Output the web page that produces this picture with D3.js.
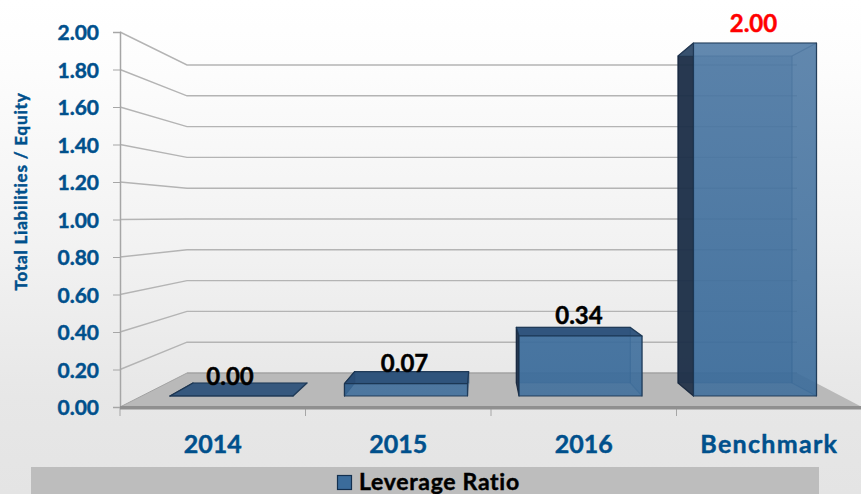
<!DOCTYPE html>
<html>
<head>
<meta charset="utf-8">
<script src="https://cdn.jsdelivr.net/npm/d3@7"></script>
<style>
  html, body { margin: 0; padding: 0; background: #fff; }
  text { font-family: Lato, "Open Sans", sans-serif; font-weight: 700; paint-order: stroke; stroke-width: 0.45px; }
</style>
</head>
<body>
<div id="chart"></div>
<script>
'use strict'

const categories = ['2014', '2015', '2016', 'Benchmark'];
const leverage = [0.00, 0.07, 0.34, 2.00];
const labelColors = ['#000000', '#000000', '#000000', '#ff0000'];
const yTicks = [0, 0.2, 0.4, 0.6, 0.8, 1.0, 1.2, 1.4, 1.6, 1.8, 2.0];
const seriesName = 'Leverage Ratio';
const yTitle = 'Total Liabilities / Equity';

const width = 861;
const height = 494;
const blue = '#00508c';

const svg = d3.select('#chart').append('svg')
  .attr('width', width)
  .attr('height', height)
  .style('display', 'block');

const defs = svg.append('defs');

const bg = defs.append('linearGradient')
  .attr('id', 'bg').attr('x1', 0).attr('x2', 0).attr('y1', 0).attr('y2', 1);
bg.append('stop').attr('offset', '0%').attr('stop-color', '#ffffff');
bg.append('stop').attr('offset', '12%').attr('stop-color', '#fdfdfd');
bg.append('stop').attr('offset', '50%').attr('stop-color', '#f2f2f2');
bg.append('stop').attr('offset', '80%').attr('stop-color', '#e7e7e7');
bg.append('stop').attr('offset', '100%').attr('stop-color', '#e4e4e4');

const front = defs.append('linearGradient')
  .attr('id', 'frontFill').attr('gradientUnits', 'userSpaceOnUse')
  .attr('x1', 0).attr('x2', 0).attr('y1', 43).attr('y2', 396);
front.append('stop').attr('offset', '0%').attr('stop-color', '#527ca6');
front.append('stop').attr('offset', '100%').attr('stop-color', '#3b6c9b');

svg.append('rect')
  .attr('width', width).attr('height', height)
  .attr('fill', 'url(#bg)');

// axis scales: the left edge of the box, front corner and back wall
const yAxisScale = d3.scaleLinear().domain([0, 2]).range([407, 32]);
const yWall = d3.scaleLinear().domain([0, 2]).range([373, 65]);
const xAxisScale = d3.scaleBand().domain(categories).range([120, 862]);

// bar scales: the bars sit inside the box, so front and back differ
const xFront = d3.scaleBand().domain(categories).range([170, 816.5]).paddingInner(0.295);
const xBack = d3.scaleBand().domain(categories).range([193, 792]).paddingInner(0.295);
const yFront = d3.scaleLinear().domain([0, 2]).range([396, 43]);
const yBack = d3.scaleLinear().domain([0, 2]).range([383, 56]);

const wallLeft = 187;
const wallRight = 797;

// floor
svg.append('polygon')
  .attr('points', [
    [xAxisScale.range()[0], yAxisScale(0)],
    [wallLeft, yWall(0)],
    [wallRight, yWall(0)],
    [xAxisScale.range()[1], yAxisScale(0)]
  ].join(' '))
  .attr('fill', '#b9b9b9');

svg.append('line')
  .attr('x1', wallLeft).attr('x2', wallRight)
  .attr('y1', yWall(0)).attr('y2', yWall(0))
  .attr('stroke', '#a3a3a3').attr('stroke-width', 1.5);

// gridlines bend at the back wall
svg.append('g').selectAll('polyline')
  .data(yTicks.slice(1))
  .join('polyline')
  .attr('points', d => [[120, yAxisScale(d)], [wallLeft, yWall(d)], [wallRight, yWall(d)]].join(' '))
  .attr('fill', 'none')
  .attr('stroke', '#b4b4b4')
  .attr('stroke-width', 1.4);

svg.append('line')
  .attr('x1', 120).attr('x2', wallLeft)
  .attr('y1', yAxisScale(0)).attr('y2', yWall(0))
  .attr('stroke', '#a3a3a3').attr('stroke-width', 1);

// y axis
const yAxis = svg.append('g')
  .attr('transform', 'translate(120,0)')
  .call(d3.axisLeft(yAxisScale).tickValues(yTicks).tickFormat(d3.format('.2f')).tickSize(7).tickPadding(14));
yAxis.select('.domain').attr('stroke', '#a6a6a6').attr('stroke-width', 1.5);
yAxis.selectAll('.tick line').attr('stroke', '#a6a6a6').attr('stroke-width', 1);
yAxis.selectAll('.tick text')
  .attr('fill', blue)
  .attr('stroke', blue)
  .attr('dy', '0.38em')
  .style('font-family', 'Lato, sans-serif')
  .style('font-weight', 700)
  .style('font-size', '21px');

// x axis, category labels only, ticks go on the band edges
const xAxis = svg.append('g')
  .attr('transform', `translate(0,${yAxisScale(0)})`)
  .call(d3.axisBottom(xAxisScale).tickSize(0).tickPadding(28));
xAxis.select('.domain').remove();
xAxis.selectAll('.tick text')
  .attr('fill', blue)
  .attr('stroke', blue)
  .style('font-family', 'Lato, sans-serif')
  .style('font-weight', 700)
  .style('font-size', '25px')
  .style('letter-spacing', d => d === 'Benchmark' ? '1.3px' : '0px');

svg.append('g').selectAll('line')
  .data(categories)
  .join('line')
  .attr('x1', d => xAxisScale(d)).attr('x2', d => xAxisScale(d))
  .attr('y1', yAxisScale(0)).attr('y2', yAxisScale(0) + 9)
  .attr('stroke', '#a6a6a6').attr('stroke-width', 1);

svg.append('rect')
  .attr('x', 120).attr('y', yAxisScale(0) - 1)
  .attr('width', 742).attr('height', 3.5)
  .attr('fill', '#8f8f8f');

// bars: each one is see-through faces
const corners = (d, v) => {
  const fl = xFront(d), fr = fl + xFront.bandwidth();
  const bl = xBack(d), br = bl + xBack.bandwidth();
  return {
    back: [[bl, yBack(0)], [br, yBack(0)], [br, yBack(v)], [bl, yBack(v)]],
    left: [[bl, yBack(0)], [fl, yFront(0)], [fl, yFront(v)], [bl, yBack(v)]],
    right: [[br, yBack(0)], [fr, yFront(0)], [fr, yFront(v)], [br, yBack(v)]],
    top: [[fl, yFront(v)], [fr, yFront(v)], [br, yBack(v)], [bl, yBack(v)]],
    front: [[fl, yFront(0)], [fr, yFront(0)], [fr, yFront(v)], [fl, yFront(v)]]
  };
};

const faceStyles = [
  { key: 'back', fill: '#2f5f8e', opacity: 0.55, stroke: '#1d4368', strokeOpacity: 0.35 },
  { key: 'right', fill: '#2f5f8e', opacity: 0.3, stroke: '#1d4368', strokeOpacity: 0.45 },
  { key: 'left', fill: '#1c2c44', opacity: 0.9, stroke: '#14233a', strokeOpacity: 0.9 },
  { key: 'top', fill: '#2a4f78', opacity: 0.92, stroke: '#1b3552', strokeOpacity: 0.9 },
  { key: 'front', fill: 'url(#frontFill)', opacity: 0.86, stroke: '#1b3552', strokeOpacity: 0.9 }
];

const bars = svg.append('g').selectAll('g')
  .data(categories.map((c, i) => ({ c, v: leverage[i], color: labelColors[i] })))
  .join('g');

bars.each(function (d) {
  const g = d3.select(this);
  const box = corners(d.c, d.v);
  // a tall bar rises past eye level, its top is then seen from below and stays light
  const fromBelow = yBack(d.v) > yFront(d.v);
  faceStyles.forEach(f => {
    const faint = fromBelow && f.key === 'top';
    g.append('polygon')
      .attr('points', box[f.key].join(' '))
      .attr('fill', faint ? '#4a78a4' : f.fill)
      .attr('fill-opacity', faint ? 0.3 : f.opacity)
      .attr('stroke', f.stroke)
      .attr('stroke-opacity', faint ? 0.35 : f.strokeOpacity)
      .attr('stroke-width', 1.2)
      .attr('stroke-linejoin', 'round');
  });
});

// value labels
bars.append('text')
  .attr('x', d => xFront(d.c) + xFront.bandwidth() / 2 - 1.5)
  .attr('y', d => yFront(d.v) - 21)
  .attr('text-anchor', 'middle')
  .attr('dominant-baseline', 'central')
  .attr('font-size', 24)
  .attr('fill', d => d.color)
  .attr('stroke', d => d.color)
  .text(d => d3.format('.2f')(d.v));

// y title
svg.append('text')
  .attr('transform', 'translate(20,191.5) rotate(-90)')
  .attr('text-anchor', 'middle')
  .attr('dominant-baseline', 'central')
  .attr('font-size', 17)
  .attr('letter-spacing', 0.8)
  .attr('fill', blue)
  .attr('stroke', blue)
  .text(yTitle);

// legend
svg.append('rect')
  .attr('x', 31).attr('y', 467)
  .attr('width', 788).attr('height', 27)
  .attr('fill', '#bdbdbd');

svg.append('rect')
  .attr('x', 337.5).attr('y', 475.5)
  .attr('width', 14).attr('height', 14)
  .attr('fill', '#3b6c9b')
  .attr('stroke', '#14304f')
  .attr('stroke-width', 1.2);

svg.append('text')
  .attr('x', 359).attr('y', 490)
  .attr('font-size', 23)
  .attr('letter-spacing', 0.7)
  .attr('fill', '#000')
  .attr('stroke', '#000')
  .text(seriesName);
</script>
</body>
</html>
